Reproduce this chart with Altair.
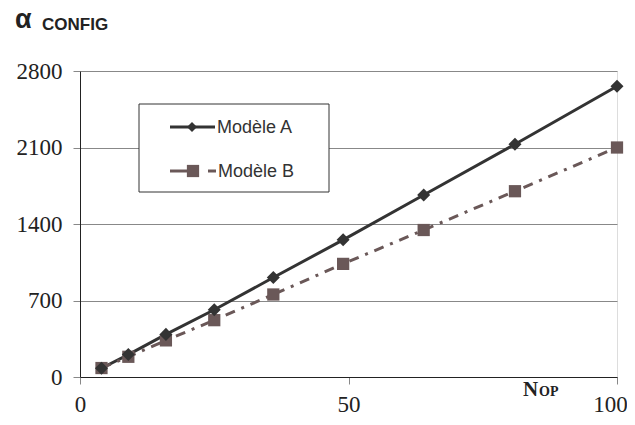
import altair as alt
import pandas as pd

n_op = [4, 9, 16, 25, 36, 49, 64, 81, 100]
modele_a = [80, 205, 390, 615, 910, 1255, 1665, 2130, 2660]
modele_b = [82, 185, 335, 520, 755, 1035, 1345, 1700, 2100]
series_names = ["Modèle A", "Modèle B"]
y_ticks = [0, 700, 1400, 2100, 2800]
x_ticks = [0, 50, 100]

COL_A = "#333333"
COL_B = "#6a5858"
SERIF = "Times New Roman, Liberation Serif, serif"

df = pd.DataFrame({
    "n": n_op * 2,
    "v": modele_a + modele_b,
    "s": [series_names[0]] * len(n_op) + [series_names[1]] * len(n_op),
})
dfa = df[df.s == series_names[0]]
dfb = df[df.s == series_names[1]]

W, H = 537, 306

xs = alt.X("n:Q", scale=alt.Scale(domain=[0, 100], nice=False),
           axis=alt.Axis(values=x_ticks, title=None, grid=False, format="d", labelFont=SERIF,
                         labelOffset={"condition": {"test": "datum.value == 100", "value": -7}, "value": 0}))
ys = alt.Y("v:Q", scale=alt.Scale(domain=[0, 2800], nice=False),
           axis=alt.Axis(values=y_ticks, title=None, grid=True, format="d", labelFont=SERIF))

line_a = alt.Chart(dfa).mark_line(color=COL_A, strokeWidth=3).encode(x=xs, y=ys)
pts_a = alt.Chart(dfa).mark_point(shape="diamond", filled=True, color=COL_A, size=170, opacity=1).encode(x=xs, y=ys)
line_b = alt.Chart(dfb).mark_line(color=COL_B, strokeWidth=3, strokeDash=[10, 7, 3, 7]).encode(x=xs, y=ys)
pts_b = alt.Chart(dfb).mark_point(shape="square", filled=True, color=COL_B, size=150, opacity=1).encode(x=xs, y=ys)

leg = pd.DataFrame({"label": series_names})
one = leg.head(1)
leg_box = alt.Chart(one).mark_rect(fill="white", stroke="#333", strokeWidth=1).encode(
    x=alt.value(59), x2=alt.value(249), y=alt.value(33), y2=alt.value(121))
leg_a_line = alt.Chart(one).mark_rule(color=COL_A, strokeWidth=3).encode(
    x=alt.value(90), x2=alt.value(135), y=alt.value(56))
leg_a_pt = alt.Chart(one).mark_point(shape="diamond", filled=True, color=COL_A, size=100, opacity=1).encode(
    x=alt.value(112), y=alt.value(56))
leg_b_line1 = alt.Chart(one).mark_rule(color=COL_B, strokeWidth=3).encode(
    x=alt.value(90), x2=alt.value(108), y=alt.value(100))
leg_b_line2 = alt.Chart(one).mark_rule(color=COL_B, strokeWidth=3).encode(
    x=alt.value(128), x2=alt.value(136), y=alt.value(100))
leg_b_pt = alt.Chart(one).mark_point(shape="square", filled=True, color=COL_B, size=150, opacity=1).encode(
    x=alt.value(113), y=alt.value(100))
leg_txt_a = alt.Chart(leg.iloc[[0]]).mark_text(align="left", baseline="middle", font="Liberation Sans",
                                               fontSize=18, color="#333").encode(
    x=alt.value(137), y=alt.value(57), text="label:N")
leg_txt_b = alt.Chart(leg.iloc[[1]]).mark_text(align="left", baseline="middle", font="Liberation Sans",
                                               fontSize=18, color="#333").encode(
    x=alt.value(138), y=alt.value(101), text="label:N")

t = pd.DataFrame({"a": ["α"], "c": ["CONFIG"], "n": ["N"], "o": ["OP"]})
t_alpha = alt.Chart(t).mark_text(align="left", baseline="alphabetic", font="Liberation Sans", fontWeight="bold",
                                 fontSize=27, color="#222").encode(x=alt.value(-65), y=alt.value(-43), text="a:N")
t_config = alt.Chart(t).mark_text(align="left", baseline="alphabetic", font="Liberation Sans", fontWeight="bold",
                                  fontSize=17, color="#222").encode(x=alt.value(-38), y=alt.value(-41), text="c:N")
t_n = alt.Chart(t).mark_text(align="left", baseline="alphabetic", font=SERIF, fontWeight="bold",
                             fontSize=21, color="#222").encode(x=alt.value(443), y=alt.value(19 + H), text="n:N")
t_op = alt.Chart(t).mark_text(align="left", baseline="alphabetic", font=SERIF, fontWeight="bold",
                              fontSize=14, color="#222").encode(x=alt.value(459), y=alt.value(19 + H), text="o:N")

chart = alt.layer(
    line_a, line_b, pts_b, pts_a,
    leg_box, leg_a_line, leg_a_pt, leg_b_line1, leg_b_line2, leg_b_pt, leg_txt_a, leg_txt_b,
    t_alpha, t_config, t_n, t_op,
).properties(
    width=W, height=H, autosize="none",
    padding={"left": 72, "top": 63, "right": 10, "bottom": 40},
).configure_view(stroke="#888", strokeWidth=1).configure(background="white").configure_axis(
    labelFont=SERIF, labelFontSize=23, labelColor="#222", tickSize=7,
    tickColor="#888", domainColor="#222", gridColor="#888", labelFlush=False,
).configure_axisX(labelPadding=9).configure_axisY(labelPadding=11)

chart.save("out.html", embed_options={"renderer": "svg", "actions": False})
